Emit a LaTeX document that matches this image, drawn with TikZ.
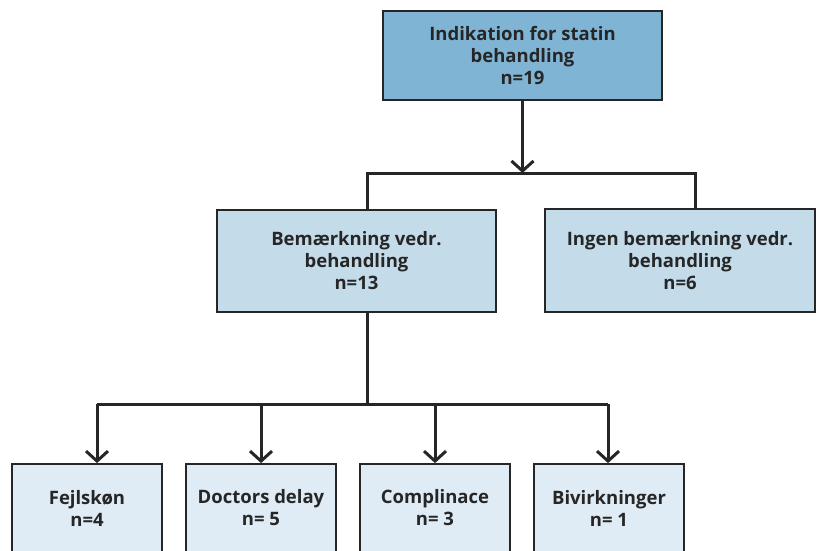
\documentclass[tikz,border=0pt]{standalone}
\usepackage{fontspec}
\setmainfont{Open Sans}[BoldFont={Open Sans Bold}]
\usepackage{tikz}
\usetikzlibrary{arrows.meta,positioning,calc}
\definecolor{flowtop}{HTML}{80B4D4}
\definecolor{flowmid}{HTML}{C4DCEA}
\definecolor{flowlow}{HTML}{DFECF5}
\definecolor{flowline}{HTML}{262626}

\begin{document}
\begin{tikzpicture}[x=1pt,y=-1pt,
    font=\fontsize{18.5}{22}\selectfont\bfseries,
    flowbox/.style={draw=flowline,line width=1.8pt,text=flowline,align=center,inner sep=0pt},
    link/.style={flowline,line width=3pt},
    >={Straight Barb[length=10pt,width=22pt,line width=3pt]}]
    \useasboundingbox (0,0) rectangle (816,550);
    \clip (0,0) rectangle (816,550);
    % boxes
    \node[flowbox,fill=flowtop,minimum width=279pt,minimum height=89pt] (indik) at (522.5,55.5) {Indikation for statin\\behandling\\n=19};
    \node[flowbox,fill=flowmid,minimum width=279pt,minimum height=102pt] (bem) at (356.5,261) {Bemærkning vedr.\\behandling\\n=13};
    \node[flowbox,fill=flowmid,minimum width=270pt,minimum height=103pt] (ingen) at (680,260.5) {Ingen bemærkning vedr.\\behandling\\n=6};
    \node[flowbox,fill=flowlow,minimum width=150pt,minimum height=88pt] (fejl) at (87,508) {Fejlskøn\\n=4};
    \node[flowbox,fill=flowlow,minimum width=150pt,minimum height=88pt] (doc) at (261,508) {Doctors delay\\n= 5};
    \node[flowbox,fill=flowlow,minimum width=150pt,minimum height=88pt] (compl) at (435,508) {Complinace\\n= 3};
    \node[flowbox,fill=flowlow,minimum width=150pt,minimum height=88pt] (bivirk) at (609,508) {Bivirkninger\\n= 1};
    % first split
    \coordinate (s1) at (522.5,173);
    \coordinate (s1l) at (367,173);
    \coordinate (s1r) at (695,173);
    \draw[link,->] (indik.south) -- (s1);
    \draw[link] (s1l |- bem.north) -- (s1l) -- (s1r) -- (s1r |- ingen.north);
    % second split
    \coordinate (s2) at (367,404);
    \coordinate (s2l) at (97,404);
    \coordinate (s2r) at (608,404);
    \draw[link] (s1l |- bem.south) -- (s2);
    \draw[link] (s2l) -- (s2r);
    \draw[link,->] (s2l) -- (s2l |- fejl.north);
    \draw[link,->] (doc.north |- s2) -- (doc.north);
    \draw[link,->] (compl.north |- s2) -- (compl.north);
    \draw[link,->] (s2r) -- (s2r |- bivirk.north);
\end{tikzpicture}
\end{document}
